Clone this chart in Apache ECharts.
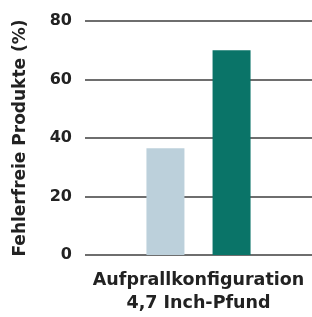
<!DOCTYPE html>
<html><head><meta charset="utf-8">
<script src="https://cdn.jsdelivr.net/npm/echarts@6/dist/echarts.min.js"></script>
<style>html,body{margin:0;padding:0;background:#fff}#c{width:312px;height:317px}</style>
</head><body><div id="c"></div>
<script>
const categories = ['Aufprallkonfiguration\n4,7 Inch-Pfund'];
const seriesA = [36.5];
const seriesB = [70];
const yTicks = [0, 20, 40, 60, 80];
const yName = 'Fehlerfreie Produkte (%)';

const chart = echarts.init(document.getElementById('c'));
const font = '"DejaVu Sans", sans-serif';
chart.setOption({
  animation: false,
  grid: {left: 85, right: 0, top: 21, bottom: 62},
  xAxis: {
    type: 'category', data: categories,
    axisLine: {show: false}, axisTick: {show: false},
    axisLabel: {color: '#222', fontFamily: font, fontWeight: 'bold', fontSize: 17.5, lineHeight: 23, margin: 14}
  },
  yAxis: {
    type: 'value', min: 0, max: 80, interval: 20,
    name: yName, nameLocation: 'middle', nameGap: 56, nameRotate: 90,
    nameTextStyle: {color: '#222', fontFamily: font, fontWeight: 'bold', fontSize: 17},
    axisLabel: {color: '#222', fontFamily: font, fontWeight: 'bold', fontSize: 16, margin: 13,
      formatter: v => yTicks.includes(v) ? String(v) : ''},
    splitLine: {lineStyle: {color: '#6e6e6e', width: 2}},
    axisLine: {show: false}, axisTick: {show: false}
  },
  series: [
    {type: 'bar', data: seriesA, barWidth: 38, barGap: '74%', itemStyle: {color: '#bcd0db'}},
    {type: 'bar', data: seriesB, barWidth: 38, itemStyle: {color: '#0a7468'}}
  ]
});
</script></body></html>
